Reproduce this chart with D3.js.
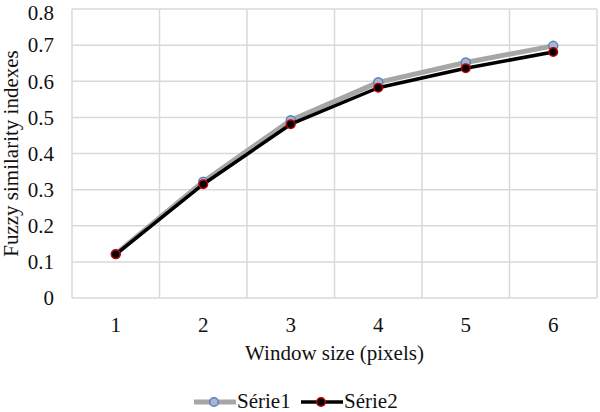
<!DOCTYPE html>
<html><head><meta charset="utf-8">
<script src="https://cdn.jsdelivr.net/npm/d3@7"></script>
<style>body{margin:0;background:#fff;}svg{display:block;}</style>
</head><body>
<script>
const categories = [1, 2, 3, 4, 5, 6];
const serie1 = [0.122, 0.322, 0.492, 0.597, 0.652, 0.698];
const serie2 = [0.121, 0.315, 0.481, 0.582, 0.636, 0.681];
const yTicks = [0, 0.1, 0.2, 0.3, 0.4, 0.5, 0.6, 0.7, 0.8];
const seriesNames = ["Série1", "Série2"];

const W = 600, H = 412;
const m = {left: 72, right: 3, top: 9, bottom: 114};
const svg = d3.select("body").append("svg").attr("width", W).attr("height", H);
const font = "'Liberation Serif','Times New Roman',serif";
const fs = 21;

const x = d3.scaleBand().domain(categories).range([m.left, W - m.right]);
const y = d3.scaleLinear().domain([0, 0.8]).range([H - m.bottom, m.top]);

// horizontal grid
const g = svg.append("g");
g.selectAll("line.h").data(yTicks).enter().append("line")
  .attr("x1", m.left).attr("x2", W - m.right)
  .attr("y1", d => y(d)).attr("y2", d => y(d))
  .attr("stroke", "#d9d9d9").attr("stroke-width", 1.5);
// vertical grid at band edges
const edges = categories.map(c => x(c)).concat([x(categories[categories.length-1]) + x.bandwidth()]);
g.selectAll("line.v").data(edges).enter().append("line")
  .attr("x1", d => d).attr("x2", d => d)
  .attr("y1", y(0.8)).attr("y2", y(0))
  .attr("stroke", "#d9d9d9").attr("stroke-width", 1.5);

// y tick labels
svg.append("g").selectAll("text").data(yTicks).enter().append("text")
  .attr("x", 54).attr("y", d => Math.max(y(d) + 0.35 * fs, 19.5))
  .attr("text-anchor", "end").attr("font-family", font).attr("font-size", fs)
  .attr("fill", "#111").text(d => d === 0 ? "0" : d3.format(".1f")(d));

// x tick labels
svg.append("g").selectAll("text").data(categories).enter().append("text")
  .attr("x", d => x(d) + x.bandwidth()/2).attr("y", 332)
  .attr("text-anchor", "middle").attr("font-family", font).attr("font-size", fs)
  .attr("fill", "#111").text(d => d);

// axis titles
svg.append("text").attr("x", (m.left + W - m.right)/2).attr("y", 360)
  .attr("text-anchor", "middle").attr("font-family", font).attr("font-size", fs)
  .attr("fill", "#111").text("Window size (pixels)");
svg.append("text").attr("transform", `translate(18,${(y(0)+y(0.8))/2}) rotate(-90)`)
  .attr("text-anchor", "middle").attr("font-family", font).attr("font-size", fs)
  .attr("fill", "#111").text("Fuzzy similarity indexes");

const cx = d => x(d) + x.bandwidth()/2;
const line = d3.line().x((d, i) => cx(categories[i])).y(d => y(d));

// Série1
svg.append("path").datum(serie1).attr("d", line).attr("fill", "none")
  .attr("stroke", "#a6a6a6").attr("stroke-width", 5).attr("stroke-linejoin", "round");
svg.append("g").selectAll("circle").data(serie1).enter().append("circle")
  .attr("cx", (d, i) => cx(categories[i])).attr("cy", d => y(d)).attr("r", 4.5)
  .attr("fill", "#a9b6cc").attr("stroke", "#5a7fc4").attr("stroke-width", 1.5);

// Série2
svg.append("path").datum(serie2).attr("d", line).attr("fill", "none")
  .attr("stroke", "#000").attr("stroke-width", 3.5).attr("stroke-linejoin", "round");
svg.append("g").selectAll("circle").data(serie2).enter().append("circle")
  .attr("cx", (d, i) => cx(categories[i])).attr("cy", d => y(d)).attr("r", 4.3)
  .attr("fill", "#000").attr("stroke", "#c00000").attr("stroke-width", 1.5);

// legend
const leg = [
  {name: seriesNames[0], x0: 194, line: "#a6a6a6", lw: 5, fill: "#a9b6cc", st: "#5a7fc4"},
  {name: seriesNames[1], x0: 301, line: "#000", lw: 3.5, fill: "#000", st: "#c00000"}
];
const ly = 402;
leg.forEach(l => {
  svg.append("line").attr("x1", l.x0).attr("x2", l.x0 + 42).attr("y1", ly).attr("y2", ly)
    .attr("stroke", l.line).attr("stroke-width", l.lw);
  svg.append("circle").attr("cx", l.x0 + 20).attr("cy", ly).attr("r", 4.3)
    .attr("fill", l.fill).attr("stroke", l.st).attr("stroke-width", 1.5);
  svg.append("text").attr("x", l.x0 + 43).attr("y", 408).attr("font-family", font)
    .attr("font-size", fs).attr("fill", "#111").text(l.name);
});
</script>
</body></html>
